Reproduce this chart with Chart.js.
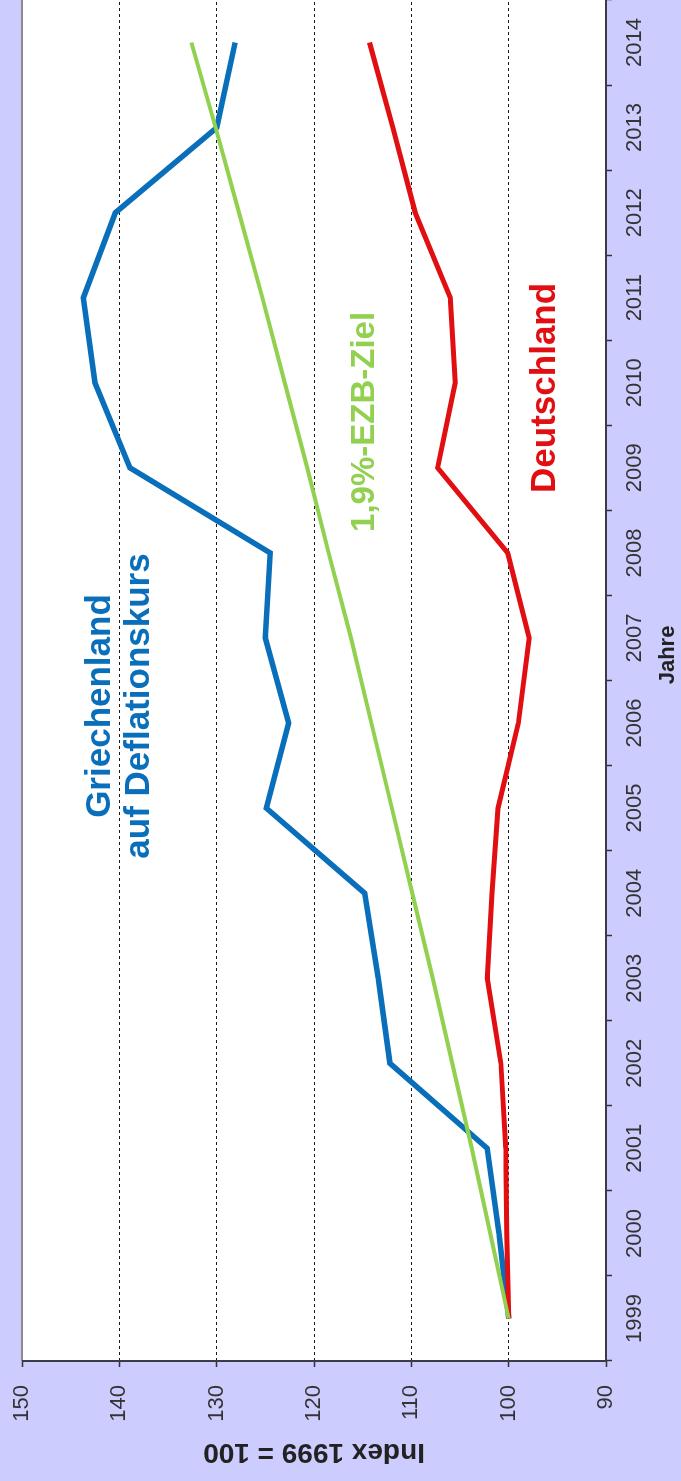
<!DOCTYPE html>
<html>
<head>
<meta charset="utf-8">
<script src="https://cdn.jsdelivr.net/npm/chart.js@4.4.1/dist/chart.umd.min.js"></script>
<style>
  html, body { margin: 0; padding: 0; background: #ccccff; overflow: hidden; }
  /* Grafik quer zeichnen und dann um 90 Grad drehen */
  #wrap {
    position: absolute; left: 0; top: 0;
    width: 1481px; height: 681px;
    transform-origin: 0 0;
    transform: translate(0, 1481px) rotate(-90deg);
  }
</style>
</head>
<body>
<div id="wrap"><canvas id="grafico" width="1481" height="681"></canvas></div>
<script>
let jahre = ["1999", "2000", "2001", "2002", "2003", "2004", "2005", "2006",
             "2007", "2008", "2009", "2010", "2011", "2012", "2013", "2014"];
let griechenland = [100, 101.0, 102.2, 112.2, 113.4, 114.8, 124.9, 122.6,
                    125.0, 124.5, 138.9, 142.5, 143.7, 140.4, 130.0, 128.1];
let deutschland = [100, 100.2, 100.3, 100.8, 102.2, 101.7, 101.1, 99.0,
                   97.9, 100.1, 107.3, 105.5, 106.0, 109.6, 111.9, 114.3];
let ezbZiel = [100.0, 101.9, 103.8, 105.8, 107.8, 109.9, 112.0, 114.1,
               116.2, 118.5, 120.7, 123.0, 125.3, 127.7, 130.1, 132.6];
let indexMin = 90;
let indexMax = 150;
let indexSchritt = 10;

const BLAU = "#0a6fba";
const ROT = "#e10f12";
const GRUEN = "#92d050";
const SCHRIFT = "'Liberation Sans', Arial, sans-serif";

// Beschriftungen im Diagramm (Position in Achsenwerten)
let beschriftungen = [
  { text: "Griechenland", x: 7.2, y: 142.0, farbe: BLAU, font: "bold 35px " + SCHRIFT },
  { text: "auf Deflationskurs", x: 7.2, y: 137.9, farbe: BLAU, font: "bold 35px " + SCHRIFT },
  { text: "1,9%-EZB-Ziel", x: 10.54, y: 114.8, farbe: GRUEN, font: "bold 33px " + SCHRIFT },
  { text: "Deutschland", x: 10.94, y: 96.2, farbe: ROT, font: "bold 35px " + SCHRIFT }
];

const hintergrundPlugin = {
  id: "hintergrund",
  beforeDraw(chart) {
    let a = chart.chartArea;
    chart.ctx.save();
    chart.ctx.fillStyle = "#ffffff";
    chart.ctx.fillRect(a.left, a.top, a.right - a.left, a.bottom - a.top);
    chart.ctx.restore();
  }
};

const textPlugin = {
  id: "texte",
  afterDatasetsDraw(chart) {
    let ctx = chart.ctx;
    ctx.save();
    ctx.textAlign = "center";
    ctx.textBaseline = "middle";
    beschriftungen.forEach(b => {
      ctx.font = b.font;
      ctx.fillStyle = b.farbe;
      ctx.fillText(b.text, chart.scales.x.getPixelForValue(b.x), chart.scales.y.getPixelForValue(b.y));
    });
    ctx.restore();
  }
};

const rahmenPlugin = {
  id: "rahmen",
  afterDraw(chart) {
    let a = chart.chartArea;
    let ctx = chart.ctx;
    ctx.save();
    ctx.setLineDash([]);
    ctx.lineWidth = 2;
    ctx.strokeStyle = "#8c8c8c";
    ctx.beginPath();
    ctx.moveTo(a.left, a.top);
    ctx.lineTo(a.right, a.top);
    ctx.stroke();
    ctx.strokeStyle = "#3a3a4a";
    ctx.beginPath();
    ctx.moveTo(a.left, a.top);
    ctx.lineTo(a.left, a.bottom);
    ctx.lineTo(a.right, a.bottom);
    ctx.stroke();
    // Achsentitel der Jahresachse, etwas links von der Mitte
    ctx.font = "bold 22px " + SCHRIFT;
    ctx.fillStyle = "#222";
    ctx.textAlign = "center";
    ctx.textBaseline = "middle";
    ctx.fillText("Jahre", chart.scales.x.getPixelForValue(7.8), 668);
    ctx.restore();
  }
};

let ctx = document.getElementById("grafico").getContext("2d");
let grafico = new Chart(ctx, {
  type: "line",
  data: {
    labels: jahre,
    datasets: [
      { label: "1,9%-EZB-Ziel", data: ezbZiel, borderColor: GRUEN, borderWidth: 4 },
      { label: "Deutschland", data: deutschland, borderColor: ROT, borderWidth: 5 },
      { label: "Griechenland", data: griechenland, borderColor: BLAU, borderWidth: 5.5 }
    ]
  },
  options: {
    responsive: false,
    devicePixelRatio: 1,
    animation: false,
    elements: {
      point: { radius: 0 },
      line: { tension: 0, fill: false }
    },
    layout: { padding: { top: 22, left: 0, right: 0, bottom: 0 } },
    plugins: {
      legend: { display: false },
      tooltip: { enabled: false }
    },
    scales: {
      x: {
        type: "category",
        offset: true,
        afterFit: s => { s.height = 75; },
        grid: {
          display: true, drawOnChartArea: false, drawTicks: true,
          tickLength: 6, tickColor: "#333", tickWidth: 1.5, offset: true
        },
        border: { display: false },
        ticks: {
          color: "#333", padding: 10, maxRotation: 0, autoSkip: false,
          font: { family: SCHRIFT, size: 22 }
        },
        title: { display: false }
      },
      y: {
        min: indexMin,
        max: indexMax,
        afterFit: s => { s.width = 120; s.paddingTop = 0; s.paddingBottom = 0; },
        grid: {
          color: "#1a1a1a", lineWidth: 1, borderDash: [3, 3],
          drawTicks: true, tickLength: 6, tickColor: "#333", tickWidth: 1.5
        },
        border: { display: false, dash: [3, 3] },
        ticks: {
          stepSize: indexSchritt, color: "#333", padding: 18,
          font: { family: SCHRIFT, size: 22 }
        },
        title: {
          display: true, text: "Index 1999 = 100", color: "#222",
          padding: { top: 12, bottom: 0 },
          font: { family: SCHRIFT, size: 28, weight: "bold" }
        }
      }
    }
  },
  plugins: [hintergrundPlugin, textPlugin, rahmenPlugin]
});
</script>
</body>
</html>
